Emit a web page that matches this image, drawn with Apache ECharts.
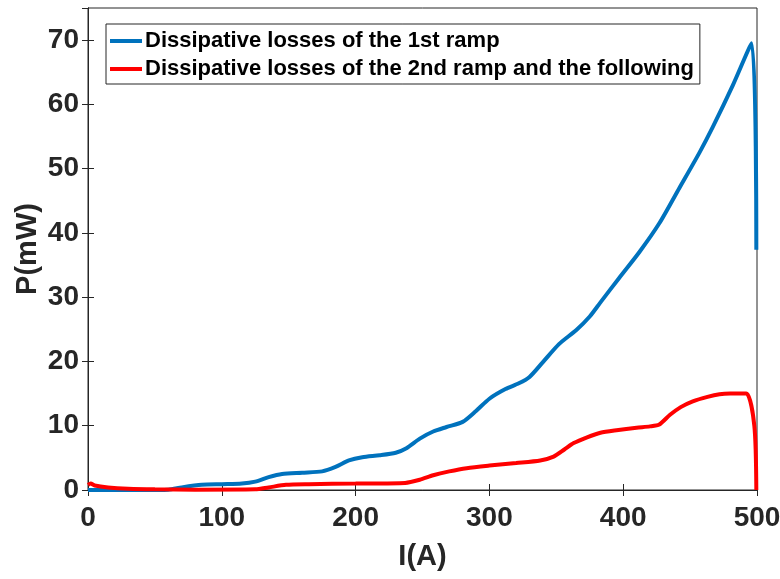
<!DOCTYPE html>
<html><head><meta charset="utf-8">
<script src="https://cdn.jsdelivr.net/npm/echarts@6/dist/echarts.min.js"></script>
<style>html,body{margin:0;padding:0;background:#fff}#c{width:780px;height:579px}</style>
</head><body><div id="c"></div>
<script>
const seriesNames = ['Dissipative losses of the 1st ramp', 'Dissipative losses of the 2nd ramp and the following'];
const xTicks = [0, 100, 200, 300, 400, 500];
const yTicks = [0, 10, 20, 30, 40, 50, 60, 70];
const blueX = [0,20,40,60,70,85,100,115,125,135,145,160,175,185,195,205,218,230,238,248,258,268,280,290,300,312,322,330,340,352,365,375,383,397,412,427,442,457,467,482,496,499.5];
const blueY = [0,0,0,0.05,0.4,0.8,0.9,1.0,1.3,2.0,2.5,2.7,2.9,3.6,4.6,5.1,5.4,5.8,6.5,8.0,9.1,9.8,10.6,12.3,14.2,15.7,16.6,17.6,19.9,22.7,24.9,27.0,29.2,33.0,37.0,41.5,47.0,52.5,56.5,63.0,69.5,37.4];
const redX = [0,2,5,15,30,50,80,125,135,148,165,200,237,248,258,270,283,300,320,338,348,356,363,373,383,395,410,420,427,435,443,452,463,472,480,492,498,499.5];
const redY = [0.8,1.0,0.7,0.4,0.2,0.1,0.05,0.1,0.4,0.8,0.9,1.0,1.1,1.6,2.3,2.9,3.4,3.8,4.2,4.6,5.2,6.3,7.3,8.2,8.9,9.3,9.7,9.9,10.2,11.7,12.9,13.8,14.5,14.9,15.0,15.0,10.0,0];

const pair = (xs, ys) => xs.map((x, i) => [x, ys[i]]);
const axisColor = '#262626';
const font = '"Liberation Sans", Arial, sans-serif';
const chart = echarts.init(document.getElementById('c'));
chart.setOption({
  animation: false,
  grid: {left: 88, right: 23, top: 8, bottom: 89, containLabel: false, outerBoundsMode: 'none',
    show: true, borderColor: axisColor, borderWidth: 1},
  legend: {
    orient: 'vertical', left: 106, top: 24,
    data: seriesNames,
    backgroundColor: '#fff', borderColor: axisColor, borderWidth: 1,
    padding: [6, 6, 4, 4], itemGap: 6, itemWidth: 32, itemHeight: 4, icon: 'rect',
    textStyle: {fontFamily: font, fontWeight: 'bold', fontSize: 22, color: '#000', padding: [0,0,0,-2]}
  },
  xAxis: [{
    type: 'value', min: 0, max: 500, interval: 100,
    name: 'I(A)', nameLocation: 'middle', nameGap: 52, nameMoveOverlap: false,
    nameTextStyle: {fontFamily: font, fontWeight: 'bold', fontSize: 29, color: axisColor},
    axisLine: {show: true, onZero: false, lineStyle: {color: axisColor}},
    axisTick: {show: true, inside: true, length: 6, lineStyle: {color: axisColor}},
    axisLabel: {fontFamily: font, fontWeight: 'bold', fontSize: 28, color: axisColor, margin: 14,
      formatter: v => xTicks.includes(v) ? String(v) : ''},
    splitLine: {show: false}
  }, {
    type: 'value', position: 'top', min: 0, max: 500, interval: 100,
    axisLine: {show: true, lineStyle: {color: axisColor}},
    axisTick: {show: true, inside: true, length: 6, lineStyle: {color: axisColor}},
    axisLabel: {show: false}, splitLine: {show: false}
  }],
  yAxis: [{
    type: 'value', min: 0, max: 75, interval: 10,
    name: 'P(mW)', nameLocation: 'middle', nameGap: 46, nameMoveOverlap: false,
    nameTextStyle: {fontFamily: font, fontWeight: 'bold', fontSize: 29, color: axisColor},
    axisLine: {show: true, onZero: false, lineStyle: {color: axisColor}},
    axisTick: {show: true, inside: true, length: 6, lineStyle: {color: axisColor}},
    axisLabel: {fontFamily: font, fontWeight: 'bold', fontSize: 28, color: axisColor, margin: 9, showMaxLabel: false,
      formatter: v => yTicks.includes(v) ? String(v) : ''},
    splitLine: {show: false}
  }, {
    type: 'value', position: 'right', min: 0, max: 75, interval: 10,
    axisLine: {show: true, lineStyle: {color: axisColor}},
    axisTick: {show: true, inside: true, length: 6, lineStyle: {color: axisColor}},
    axisLabel: {show: false}, splitLine: {show: false}
  }],
  series: [{
    name: seriesNames[0], type: 'line', data: pair(blueX, blueY), showSymbol: false, smooth: 0.25,
    lineStyle: {color: '#0072BD', width: 4}, itemStyle: {color: '#0072BD'}, z: 2
  }, {
    name: seriesNames[1], type: 'line', data: pair(redX, redY), showSymbol: false, smooth: 0.25,
    lineStyle: {color: '#FF0000', width: 4}, itemStyle: {color: '#FF0000'}, z: 3
  }]
});
</script></body></html>
